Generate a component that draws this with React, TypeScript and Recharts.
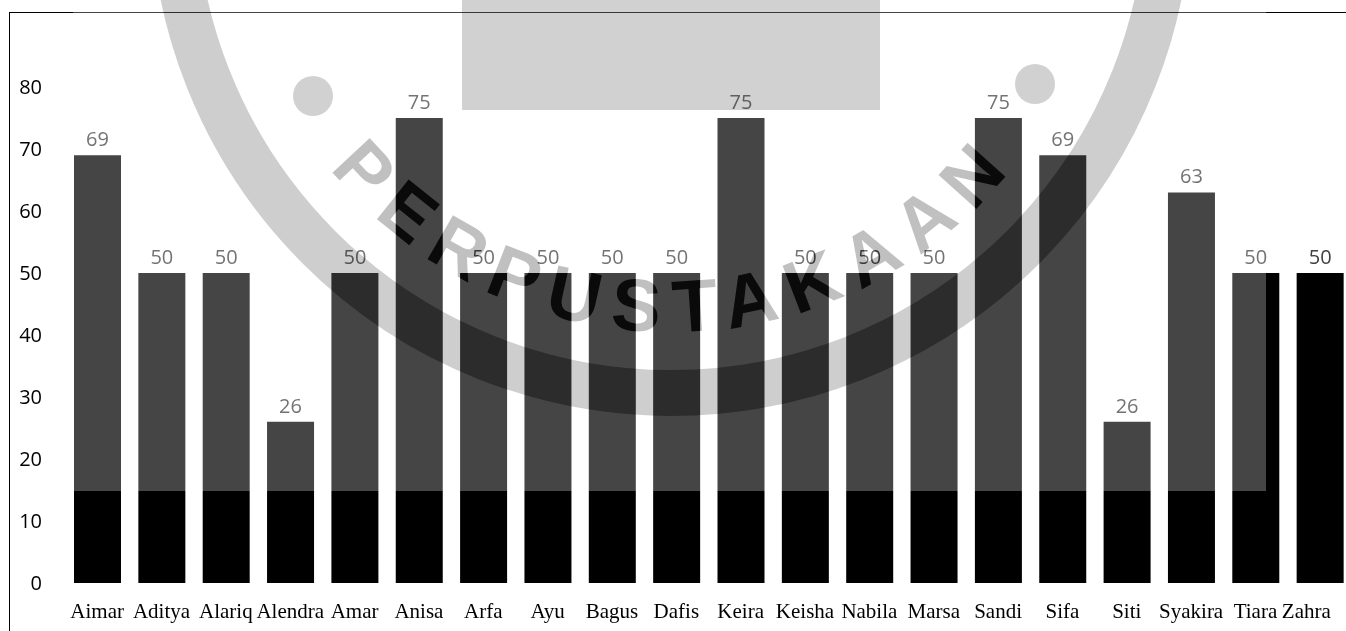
import { BarChart, Bar, XAxis, YAxis, LabelList } from 'recharts';

const names = ['Aimar', 'Aditya', 'Alariq', 'Alendra', 'Amar', 'Anisa', 'Arfa', 'Ayu', 'Bagus', 'Dafis',
  'Keira', 'Keisha', 'Nabila', 'Marsa', 'Sandi', 'Sifa', 'Siti', 'Syakira', 'Tiara', 'Zahra'];
const scores = [69, 50, 50, 26, 50, 75, 50, 50, 50, 50, 75, 50, 50, 50, 75, 69, 26, 63, 50, 50];
const yTicks = [0, 10, 20, 30, 40, 50, 60, 70, 80];
const stampText = 'PERPUSTAKAAN';

const data = names.map((name, i) => ({ name, score: scores[i] }));

const W = 1346;
const H = 631;
const SANS = "'Open Sans', 'Noto Sans', sans-serif";

// names under the bars, the last one is pulled in so it stays inside the frame
const NameTick = (props: any) => {
  const { x, y, payload, index } = props;
  const last = index === names.length - 1;
  return (
    <text
      x={last ? x + 11 : x}
      y={y}
      dy={16}
      textAnchor={last ? 'end' : 'middle'}
      fontFamily="'Liberation Serif', 'Times New Roman', serif"
      fontSize={21}
      fill="#000"
    >
      {payload.value}
    </text>
  );
};

// library stamp printed over the page
const ringCx = 671;
const ringCy = -105;
const textR = 437;
const arcAt = (deg: number) => {
  const a = (deg * Math.PI) / 180;
  return `${ringCx + textR * Math.cos(a)},${ringCy + textR * Math.sin(a)}`;
};
const stampArc = `M${arcAt(150)} A${textR},${textR} 0 0 0 ${arcAt(30)}`;

const StampText = ({ id, fill, opacity }: { id: string; fill: string; opacity: number }) => (
  <>
    <defs>
      <path id={id} d={stampArc} />
    </defs>
    <text
      fontFamily="'Liberation Sans', Arial, sans-serif"
      fontWeight={700}
      fontSize={74}
      letterSpacing={15}
      fill={fill}
      fillOpacity={opacity}
    >
      <textPath href={`#${id}`} startOffset="50.5%" textAnchor="middle">
        {stampText}
      </textPath>
    </text>
  </>
);

const Stamp = () => (
  <>
    <svg width={W} height={H} style={{ position: 'absolute', left: 0, top: 0, pointerEvents: 'none' }}>
      <rect x={73} y={0} width={1193} height={491} fill="#fff" fillOpacity={0.27} />
      <g fill="#000" fillOpacity={0.18}>
        <rect x={462} y={0} width={418} height={110} />
        <circle cx={313} cy={96} r={20} />
        <circle cx={1035} cy={84} r={20} />
      </g>
      <circle cx={ringCx} cy={ringCy} r={498} fill="none" stroke="#000" strokeOpacity={0.18} strokeWidth={46} />
      <StampText id="stampArcA" fill="#000" opacity={0.2} />
    </svg>
    {/* ink of the stamp soaks darker where it lands on the bars */}
    <svg
      width={W}
      height={H}
      style={{ position: 'absolute', left: 0, top: 0, pointerEvents: 'none', mixBlendMode: 'color-burn' }}
    >
      <circle cx={ringCx} cy={ringCy} r={498} fill="none" stroke="#f0f0f0" strokeWidth={46} />
      <StampText id="stampArcB" fill="#d0d0d0" opacity={1} />
    </svg>
  </>
);

export default function App() {
  return (
    <div style={{ position: 'fixed', left: 0, top: 0, width: W, height: H, overflow: 'hidden', background: '#fff' }}>
      <div
        style={{
          position: 'absolute',
          left: 8.5,
          top: 12,
          width: 2000,
          height: 2000,
          borderLeft: '1.5px solid #000',
          borderTop: '1.5px solid #000',
        }}
      />
      <div style={{ position: 'absolute', left: 0, top: 0 }}>
        <BarChart width={1352} height={H} data={data} margin={{ top: 25, right: 0, bottom: 0, left: 0 }}>
          <XAxis
            dataKey="name"
            axisLine={false}
            tickLine={false}
            interval={0}
            height={48}
            tickMargin={13}
            tick={<NameTick />}
          />
          <YAxis
            domain={[0, 90]}
            ticks={yTicks}
            width={65}
            axisLine={false}
            tickLine={false}
            tickMargin={17}
            tick={{ fill: '#000', fontSize: 20, fontFamily: SANS }}
          />
          <Bar dataKey="score" fill="#000" barSize={47} isAnimationActive={false}>
            <LabelList
              dataKey="score"
              position="top"
              offset={9}
              fill="#404040"
              fontSize={20}
              fontFamily={SANS}
            />
          </Bar>
        </BarChart>
      </div>
      <Stamp />
    </div>
  );
}
